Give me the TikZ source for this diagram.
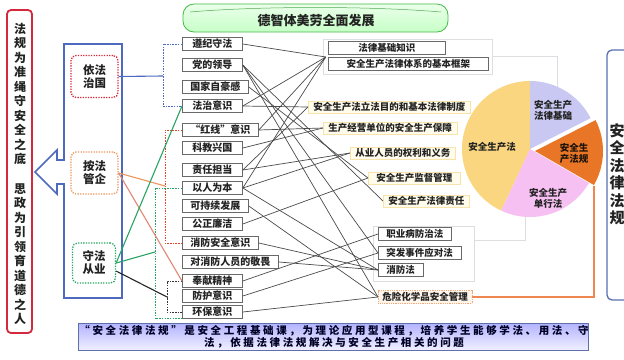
\documentclass[tikz,border=0pt]{standalone}
\usepackage{fontspec}
\setmainfont{Noto Sans CJK SC}
\newfontfamily\bandfont{Noto Sans CJK SC}[LetterSpace=25]
\usetikzlibrary{calc}
\definecolor{framebl}{RGB}{78,106,190}
\definecolor{redln}{RGB}{212,40,60}
\definecolor{orgln}{RGB}{238,150,90}
\definecolor{grnln}{RGB}{40,165,100}
\definecolor{salmon}{RGB}{225,135,115}
\definecolor{boxgray}{RGB}{105,105,105}
\definecolor{txtdark}{RGB}{35,35,35}
\definecolor{lnkgray}{RGB}{75,75,75}
\definecolor{ylwline}{RGB}{248,228,170}
\definecolor{ylwfill}{RGB}{255,252,236}
\definecolor{pieyel}{RGB}{250,214,128}
\definecolor{pielav}{RGB}{200,200,242}
\definecolor{pieorg}{RGB}{232,118,38}
\definecolor{piepnk}{RGB}{246,192,242}
\definecolor{faint}{RGB}{222,222,226}
\def\pieslice[#1](#2)(#3:#4:#5){\fill[#1] (#2) -- ++(#3:#5) arc (#3:#4:#5) -- cycle;}
\tikzset{
  lbox/.style={draw=boxgray, fill=white, line width=0.8pt, anchor=west, minimum width=60, minimum height=13, inner xsep=8, inner ysep=0, font=\bfseries\fontsize{10}{10}\selectfont, text=txtdark},
  rbox/.style={lbox, minimum width=0, font=\bfseries\fontsize{9.5}{10}\selectfont},
  ybox/.style={draw=ylwline, fill=ylwfill, line width=0.9pt, anchor=west, minimum height=12, inner xsep=5, inner ysep=0, font=\bfseries\fontsize{9.5}{10}\selectfont, text=txtdark},
  dotbox/.style={rounded corners=5, line width=1.3pt, dash pattern=on 1.3pt off 1.3pt, fill=white, minimum width=47, minimum height=42, align=center, font=\bfseries\fontsize{11.5}{13}\selectfont, text=txtdark},
  vtext/.style={align=center, inner sep=0, font=\bfseries\fontsize{12}{14.5}\selectfont, text=txtdark},
  plabel/.style={align=center, inner sep=0, font=\bfseries\fontsize{9.5}{11}\selectfont, text=txtdark},
  lnk/.style={draw=lnkgray, line width=0.7pt},
  bracket/.style={line width=0.9pt, dash pattern=on 1.5pt off 1.2pt},
  pt/.style={inner sep=0, minimum size=0}
}
\begin{document}
\begin{tikzpicture}[x=1pt,y=-1pt]
		%%%%% START %%%%%
		\useasboundingbox (0,0) rectangle (624,359);
		\fill[white] (0,0) rectangle (624,359);
		
		% left red column
		\draw[redln, line width=1.8pt, rounded corners=4] (7,10) rectangle (32,333);
		\node[vtext] (guizhi) at (20,94) {法\\规\\为\\准\\绳\\守\\安\\全\\之\\底};
		\node[vtext] (sizheng) at (20,254) {思\\政\\为\\引\\领\\育\\道\\德\\之\\人};
		
		% blue arrow frame
		\draw[framebl, line width=1.6pt, fill=white] (64,44) -- (122,44) -- (122,298) -- (64,298) -- (64,184) -- (57,184) -- (57,194) -- (35,172) -- (57,150) -- (57,160) -- (64,160) -- cycle;
		\node[dotbox, draw=redln] (yifa) at (94.5,76.5) {依法\\治国};
		\node[dotbox, draw=orgln] (anfa) at (94.5,173) {按法\\管企};
		\node[dotbox, draw=grnln, minimum width=43, minimum height=40] (shoufa) at (94,263) {守法\\从业};
		
		% banner
		\draw[draw=green!45!gray, line width=0.8pt, top color=green!8, bottom color=green!22, rounded corners=11] (183,4) rectangle (448,32);
		\draw[green!35!gray, line width=0.5pt] (190,12) .. controls (260,6) and (370,6) .. (441,12);
		\node[font=\bfseries\fontsize{13}{13}\selectfont, text=txtdark] (fazhan) at (316,21) {德智体美劳全面发展};
		
		% left column
		\node[lbox] (zunji) at (182,44) {遵纪守法};
		\node[lbox] (dangde) at (182,65) {党的领导};
		\node[lbox] (guojia) at (182,87) {国家自豪感};
		\node[lbox] (fazhi) at (182,106) {法治意识};
		\node[lbox] (hongxian) at (182,130) {“红线”意识};
		\node[lbox] (kejiao) at (182,148) {科教兴国};
		\node[lbox] (zeren) at (182,170) {责任担当};
		\node[lbox] (yiren) at (182,188) {以人为本};
		\node[lbox] (kechixu) at (182,206) {可持续发展};
		\node[lbox] (gongzheng) at (182,224) {公正廉洁};
		\node[lbox] (xfyishi) at (182,243) {消防安全意识};
		\node[lbox] (jingwei) at (182,262) {对消防人员的敬畏};
		\node[lbox] (fengxian) at (182,281) {奉献精神};
		\node[lbox] (fanghu) at (182,296) {防护意识};
		\node[lbox] (huanbao) at (182,312) {环保意识};
		
		% brackets
		\coordinate (bj1) at (163,76);
		\coordinate (bj2) at (165,186);
		\coordinate (bj3) at (155,252);
		\coordinate (bj4) at (167,297);
		\draw[bracket, framebl] (zunji.west) -| (bj1) |- (fazhi.west);
		\draw[bracket, redln!70!orange] (hongxian.west) -| (bj2) |- (xfyishi.west);
		\draw[bracket, grnln] (yiren.west) -| (bj3) |- (huanbao.south west);
		\draw[bracket, black!80] (fengxian.west) -| (bj4) |- (huanbao.west);
		\draw[framebl, line width=1.1pt] (yifa.east) -- (bj1);
		\draw[orgln, line width=1.1pt] (anfa.east) -- (bj2);
		\draw[salmon, line width=1.1pt] (anfa.east) -- (fengxian.west);
		\draw[grnln, line width=1.1pt] (shoufa.east) -- (fazhi.west);
		\draw[grnln, line width=1.1pt] (shoufa.east) -- (bj3);
		\draw[black!85, line width=1.1pt] (shoufa.-20) -- (bj4);
		
		% faint group frames
		\draw[faint, line width=0.8pt] (323,39) rectangle (492,74);
		\draw[faint, line width=0.8pt] (492,56) -| (557,87);
		\draw[faint, line width=0.8pt] (373,226) rectangle (474,281);
		\draw[faint, line width=0.8pt] (474,240) -| (525,217);
		
		% right side boxes
		\node[rbox, minimum width=117] (jichu) at (328,48) {法律基础知识};
		\node[rbox, minimum width=160] (tixi) at (328,64) {安全生产法律体系的基本框架};
		\node[pt] (pA) at (326,57) {};
		\node[ybox] (lifa) at (308,107) {安全生产法立法目的和基本法律制度};
		\node[ybox] (baozhang) at (323,128) {生产经营单位的安全生产保障};
		\node[ybox] (quanli) at (350,153) {从业人员的权利和义务};
		\node[ybox, inner xsep=8] (jiandu) at (368,178) {安全生产监督管理};
		\node[ybox] (zeren2) at (383,201) {安全生产法律责任};
		\node[rbox] (zhiye) at (378,234) {职业病防治法};
		\node[rbox] (tufa) at (378,253) {突发事件应对法};
		\node[rbox] (xfa) at (378,270) {消防法};
		\node[rbox, draw=orgln!80, dash pattern=on 1pt off 0.8pt, fill=orange!8, inner xsep=4] (whp) at (378,297) {危险化学品安全管理};
		
		% links
		\foreach \a/\b in {zunji/pA, fazhi/pA, hongxian/pA, yiren/pA, fazhi/lifa, zeren/lifa, hongxian/baozhang, kejiao/baozhang, yiren/quanli, zeren/quanli, guojia/jiandu, gongzheng/jiandu, dangde/zeren2, dangde/tufa, dangde/whp, yiren/xfa, kechixu/whp, xfyishi/xfa, jingwei/xfa, fengxian/zhiye, fanghu/tufa, huanbao/whp}
			\draw[lnk] (\a.east) -- (\b.west);
		
		% pie
		\coordinate (pie) at (530,149);
		\pieslice[pieyel](pie)(115:270:68)
		\pieslice[pielav](pie)(-90:-27:68)
		\pieslice[piepnk](pie)(30:115:68)
		\pieslice[pieorg](535,151)(-27:30:68)
		\node[plabel] (pfa) at (492,147) {安全生产法};
		\node[plabel] (pjichu) at (553,110) {安全生产\\法律基础};
		\node[plabel, text=black!85!brown] (pfagui) at (574,153) {安全生\\产法规};
		\node[plabel] (pdanxing) at (548,198) {安全生产\\单行法};
		\draw[orgln!90!red, line width=1.1pt] (whp.east) -| (594,186);
		
		% right frame
		\draw[framebl!80!gray, line width=1.3pt, rounded corners=5] (607,50) rectangle (660,300);
		\node[vtext, font=\bfseries\fontsize{15}{17.5}\selectfont] (anquan) at (617,174) {安\\全\\法\\律\\法\\规};
		
		% bottom band
		\draw[framebl!70!gray, line width=1pt, top color=blue!30, bottom color=blue!6] (78,323) rectangle (588,350);
		\node[align=center, font=\bandfont\bfseries\fontsize{10.5}{10.5}\selectfont, text=black!85!blue] (kecheng) at (334,336.5) {“安全法律法规”是安全工程基础课，为理论应用型课程，培养学生能够学法、用法、守\\法，依据法律法规解决与安全生产相关的问题};
		%%%%% END %%%%%
\end{tikzpicture}
\end{document}
